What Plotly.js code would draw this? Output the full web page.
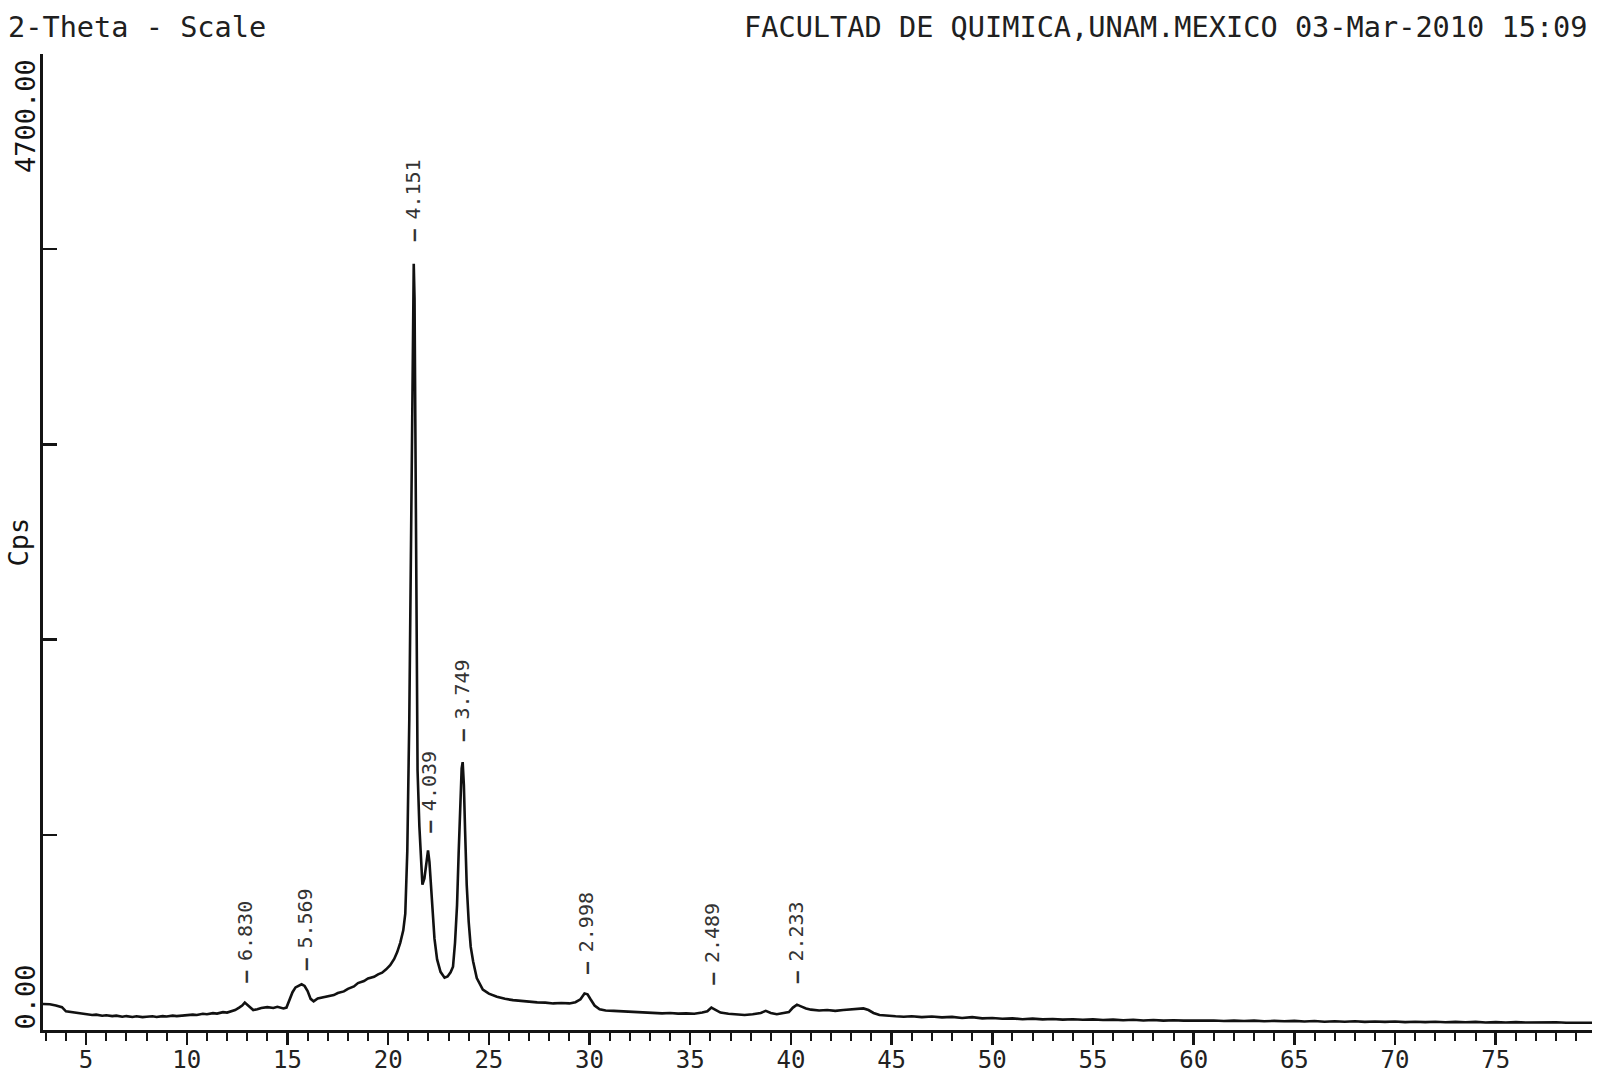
<!DOCTYPE html>
<html>
<head>
<meta charset="utf-8">
<script src="https://cdn.plot.ly/plotly-3.0.1.min.js"></script>
<style>
  html, body { margin: 0; padding: 0; background: #ffffff; }
  #chart { width: 1598px; height: 1077px; }
</style>
</head>
<body>
<div id="chart"></div>
<script>
const twoTheta = [
  2.86, 3.2, 3.5, 3.8, 4.0, 4.3, 4.6, 5.0, 5.3, 5.5, 5.8, 6.0, 6.3, 6.5, 6.8, 7.0, 7.3, 7.5, 7.8, 8.0,
  8.3, 8.5, 8.8, 9.0, 9.3, 9.5, 9.8, 10.0, 10.3, 10.5, 10.8, 11.0, 11.3, 11.5, 11.8, 12.0, 12.2, 12.4,
  12.6, 12.75, 12.88, 13.0, 13.15, 13.3, 13.5, 13.7, 14.0, 14.3, 14.5, 14.8, 14.95, 15.1, 15.25, 15.4,
  15.55, 15.7, 15.85, 16.0, 16.15, 16.3, 16.5, 16.8, 17.0, 17.3, 17.5, 17.8, 18.0, 18.3, 18.5, 18.8,
  19.0, 19.3, 19.5, 19.7, 19.9, 20.1, 20.3, 20.45, 20.6, 20.75, 20.85, 20.95, 21.05, 21.12, 21.18,
  21.23, 21.27, 21.31, 21.35, 21.4, 21.46, 21.55, 21.62, 21.7, 21.8, 21.9, 21.98, 22.05, 22.12, 22.2,
  22.3, 22.43, 22.6, 22.8, 22.95, 23.1, 23.22, 23.32, 23.42, 23.5, 23.58, 23.65, 23.7, 23.76, 23.82,
  23.9, 24.0, 24.1, 24.22, 24.4, 24.7, 25.0, 25.4, 25.8, 26.2, 26.6, 27.0, 27.4, 27.8, 28.2, 28.6,
  29.0, 29.3, 29.55, 29.75, 29.9, 30.05, 30.25, 30.5, 30.8, 31.2, 31.6, 32.0, 32.4, 32.8, 33.2, 33.6,
  34.0, 34.4, 34.8, 35.2, 35.6, 35.85, 36.05, 36.25, 36.5, 36.9, 37.3, 37.7, 38.1, 38.5, 38.75, 39.0,
  39.3, 39.6, 39.9, 40.1, 40.3, 40.5, 40.75, 41.0, 41.4, 41.8, 42.2, 42.6, 43.0, 43.3, 43.6, 43.85,
  44.1, 44.4, 44.8, 45.2, 45.6, 46.0, 46.5, 47.0, 47.5, 48.0, 48.5, 49.0, 49.5, 50.0, 50.5, 51.0,
  51.5, 52.0, 52.5, 53.0, 53.5, 54.0, 54.5, 55.0, 55.5, 56.0, 56.5, 57.0, 57.5, 58.0, 58.5, 59.0,
  59.5, 60.0, 60.5, 61.0, 61.5, 62.0, 62.5, 63.0, 63.5, 64.0, 64.5, 65.0, 65.5, 66.0, 66.5, 67.0,
  67.5, 68.0, 68.5, 69.0, 69.5, 70.0, 70.5, 71.0, 71.5, 72.0, 72.5, 73.0, 73.5, 74.0, 74.5, 75.0,
  75.5, 76.0, 76.5, 77.0, 77.5, 78.0, 78.5, 79.0, 79.4, 79.78
];
const cps = [
  125, 124, 118, 110, 90, 86, 80, 78, 72, 74, 69, 71, 67, 69, 64, 67, 63, 66, 62, 64,
  66, 63, 67, 65, 69, 67, 71, 70, 74, 72, 78, 76, 81, 79, 86, 84, 90, 96,
  108, 118, 132, 122, 106, 96, 100, 106, 110, 106, 112, 104, 108, 148, 182, 205,
  214, 220, 212, 188, 150, 138, 152, 158, 164, 168, 178, 186, 198, 210, 226, 236,
  248, 256, 268, 276, 292, 312, 342, 375, 420, 480, 560, 860, 1500, 2300, 3050,
  3550, 3690, 3520, 2900, 2000, 1250, 980, 820, 700, 730, 800, 865, 810, 700, 580,
  440, 340, 280, 252, 258, 278, 305, 420, 600, 850, 1120, 1260, 1290, 1180, 960,
  700, 520, 400, 330, 250, 195, 175, 160, 150, 144, 140, 138, 133, 132, 128, 130,
  128, 134, 148, 176, 172, 148, 118, 100, 94, 92, 90, 88, 86, 84, 83, 80,
  82, 79, 80, 78, 84, 90, 108, 96, 84, 78, 74, 72, 76, 82, 92, 82,
  76, 80, 86, 108, 122, 114, 104, 98, 94, 96, 92, 96, 98, 100, 104, 96,
  82, 72, 68, 66, 64, 66, 62, 65, 61, 63, 58, 62, 56, 58, 54, 56,
  52, 55, 51, 53, 50, 52, 49, 51, 48, 50, 47, 49, 46, 48, 45, 47,
  45, 46, 44, 46, 43, 45, 43, 45, 42, 44, 42, 44, 41, 43, 40, 42,
  40, 42, 39, 41, 39, 41, 38, 40, 38, 40, 37, 39, 37, 39, 36, 38,
  36, 38, 36, 37, 35, 37, 35, 36, 34, 35
];

// Peak d-spacing labels: 2-Theta position, label height (Cps) and text
const peakTheta = [12.88, 15.88, 21.25, 22.02, 23.68, 29.82, 36.07, 40.27];
const peakLabelY = [217, 279, 3790, 939, 1382, 260, 207, 217];
const peakText = ["6.830", "5.569", "4.151", "4.039", "3.749", "2.998", "2.489", "2.233"];

// Axis settings
const xRange = [2.86, 79.78];
const yRange = [0, 4700];
const xTickStep = 5;
const yTickStep = 940;

const headerLeft = "2-Theta - Scale";
const headerRight = "FACULTAD DE QUIMICA,UNAM.MEXICO 03-Mar-2010 15:09";
const yTopLabel = "4700.00";
const yBottomLabel = "0.00";
const yTitle = "Cps";

const FONT = "DejaVu Sans Mono, Liberation Mono, monospace";
const INK = "#141414";

const trace = {
  x: twoTheta,
  y: cps,
  type: "scatter",
  mode: "lines",
  line: { color: "#111111", width: 2.6 },
  hoverinfo: "skip",
  showlegend: false
};

const annotations = [];
annotations.push({
  text: headerLeft, xref: "paper", yref: "paper", x: 0, y: 1,
  xanchor: "left", yanchor: "middle", xshift: -37, yshift: 27,
  showarrow: false, font: { family: FONT, size: 28.6, color: "#202020" }
});
annotations.push({
  text: headerRight, xref: "paper", yref: "paper", x: 1, y: 1,
  xanchor: "right", yanchor: "middle", xshift: -2, yshift: 27,
  showarrow: false, font: { family: FONT, size: 28.6, color: "#202020" }
});
annotations.push({
  text: yTopLabel, xref: "paper", yref: "paper", x: 0, y: 1,
  xanchor: "center", yanchor: "top", xshift: -18, yshift: -3, textangle: -90,
  showarrow: false, font: { family: FONT, size: 27, color: INK }
});
annotations.push({
  text: yBottomLabel, xref: "paper", yref: "paper", x: 0, y: 0,
  xanchor: "center", yanchor: "bottom", xshift: -18, yshift: -2, textangle: -90,
  showarrow: false, font: { family: FONT, size: 27, color: INK }
});
for (let i = 0; i < peakTheta.length; i++) {
  annotations.push({
    text: "<b>\u2013</b><span style=\"font-size:16px\"> </span>" + peakText[i],
    xref: "x", yref: "y", x: peakTheta[i], y: peakLabelY[i],
    xanchor: "center", yanchor: "bottom", textangle: -90,
    showarrow: false, font: { family: FONT, size: 20, color: "#333333" }
  });
}

const layout = {
  width: 1598,
  height: 1077,
  margin: { l: 43, r: 6, t: 54, b: 47, pad: 0 },
  paper_bgcolor: "#ffffff",
  plot_bgcolor: "#ffffff",
  showlegend: false,
  xaxis: {
    range: xRange,
    tick0: 0, dtick: xTickStep,
    ticks: "outside", ticklen: 12, tickwidth: 2.5, tickcolor: INK,
    ticklabelstandoff: -6,
    minor: { dtick: 1, ticks: "outside", ticklen: 8, tickwidth: 2, tickcolor: INK },
    showline: true, linecolor: INK, linewidth: 3,
    showgrid: false, zeroline: false,
    tickfont: { family: FONT, size: 24, color: "#222222" },
    fixedrange: true
  },
  xaxis2: {
    range: xRange, overlaying: "x", side: "top", matches: "x",
    tick0: 0, dtick: xTickStep,
    ticks: "inside", ticklen: 11, tickwidth: 2.5, tickcolor: INK,
    showticklabels: false,
    showline: true, linecolor: INK, linewidth: 3,
    showgrid: false, zeroline: false
  },
  yaxis: {
    range: yRange,
    tick0: 0, dtick: yTickStep,
    ticks: "inside", ticklen: 14, tickwidth: 2.5, tickcolor: INK,
    showticklabels: false,
    showline: true, linecolor: INK, linewidth: 3,
    showgrid: false, zeroline: false,
    title: { text: yTitle, standoff: 4, font: { family: FONT, size: 27, color: INK } },
    fixedrange: true
  },
  yaxis2: {
    range: yRange, overlaying: "y", side: "right", matches: "y",
    tick0: 0, dtick: yTickStep,
    ticks: "inside", ticklen: 11, tickwidth: 2.5, tickcolor: INK,
    showticklabels: false,
    showline: true, linecolor: "#2a2a3a", linewidth: 3,
    showgrid: false, zeroline: false
  },
  annotations: annotations
};

Plotly.newPlot("chart", [trace], layout, { displayModeBar: false, staticPlot: true });
</script>
</body>
</html>
